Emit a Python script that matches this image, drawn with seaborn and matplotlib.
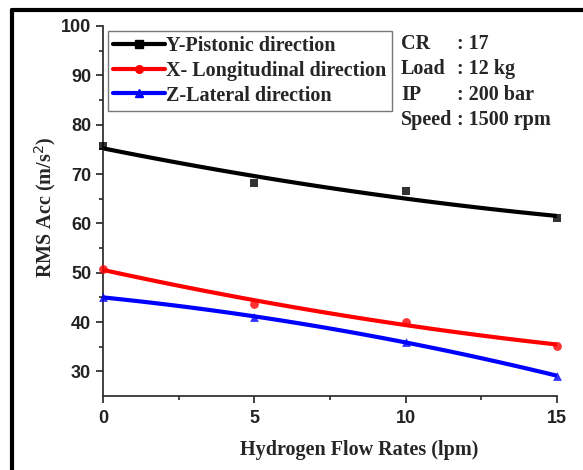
import matplotlib
matplotlib.use("Agg")
import matplotlib.pyplot as plt
from matplotlib.lines import Line2D
import numpy as np
import pandas as pd
import seaborn as sns

# Hydrogen flow rate (lpm) and RMS acceleration in each direction
flow_rates = [0, 5, 10, 15]
y_pistonic = [75.7, 68.1, 66.5, 61.0]
x_longitudinal = [50.8, 43.7, 40.1, 35.2]
z_lateral = [45.0, 41.1, 35.9, 29.1]

series_names = ["Y-Pistonic direction", "X- Longitudinal direction", "Z-Lateral direction"]
series_values = [y_pistonic, x_longitudinal, z_lateral]
series_colors = ["#000000", "#ff0000", "#0000ff"]
series_markers = ["s", "o", "^"]

conditions = [("CR", ": 17"), ("Load", ": 12 kg"), ("IP", ": 200 bar"), ("Speed", ": 1500 rpm")]

sns.set_style("ticks")
plt.rcParams["font.family"] = ["Liberation Sans", "DejaVu Sans"]

fig = plt.figure(figsize=(5.83, 4.70), dpi=100)
ax = fig.add_axes([0.1767, 0.1574, 0.7787, 0.7873])

serif = ["Liberation Serif", "DejaVu Serif"]

handles = []
for name, vals, col, mk in zip(series_names, series_values, series_colors, series_markers):
    df = pd.DataFrame({"flow": flow_rates, "acc": vals})
    sns.regplot(data=df, x="flow", y="acc", order=2, ci=None, ax=ax,
                color=col, marker=mk,
                scatter_kws={"s": 40, "zorder": 3, "linewidths": 0, "clip_on": False},
                line_kws={"lw": 3.0, "zorder": 2, "solid_capstyle": "butt"})
    handles.append(Line2D([], [], color=col, lw=3.0, marker=mk, markersize=5.5,
                          label=name))

ax.set_xlim(0, 15)
ax.set_ylim(25, 100)
ax.set_xticks([0, 5, 10, 15])
ax.set_xticks([2.5, 7.5, 12.5], minor=True)
ax.set_yticks([30, 40, 50, 60, 70, 80, 90, 100])
ax.set_yticks(np.arange(35, 100, 10), minor=True)
ax.tick_params(axis="both", which="major", direction="out", length=5, width=1.2,
               labelsize=13, colors="#222222")
ax.tick_params(axis="x", which="major", pad=5)
ax.tick_params(axis="both", which="minor", direction="out", length=3, width=1.2)
for lab in ax.get_xticklabels() + ax.get_yticklabels():
    lab.set_fontweight("bold")
for sp in ("left", "bottom"):
    ax.spines[sp].set_linewidth(1.3)
    ax.spines[sp].set_color("#333333")
sns.despine(ax=ax)

ax.set_xlabel("Hydrogen Flow Rates (lpm)", family=serif, fontweight="bold",
              fontsize=14.5)
ax.xaxis.set_label_coords(0.564, -0.12)
ax.set_ylabel("RMS Acc (m/s$^2$)", family=serif, fontweight="bold",
              fontsize=14.5)
ax.yaxis.set_label_coords(-0.10, 0.51)

leg = ax.legend(handles=handles, loc="upper left", bbox_to_anchor=(0.011, 0.987),
                prop={"family": serif, "weight": "bold", "size": 14.5},
                frameon=True, fancybox=False, handlelength=2.6,
                handletextpad=0.05, borderpad=0.25, labelspacing=0.24,
                borderaxespad=0.0)
leg.get_frame().set_edgecolor("#555555")
leg.get_frame().set_linewidth(1.0)

for i, (k, v) in enumerate(conditions):
    ypos = 0.9065 - i * 0.0538
    fig.text(0.688, ypos, k, family=serif, fontweight="bold", fontsize=14.5, va="center")
    fig.text(0.784, ypos, v, family=serif, fontweight="bold", fontsize=14.5, va="center")

# outer frame edges
fig.add_artist(Line2D([0.0206, 1.0], [0.9787, 0.9787], color="black", lw=3,
                      transform=fig.transFigure))
fig.add_artist(Line2D([0.0206, 0.0206], [0.0, 0.9787], color="black", lw=3,
                      transform=fig.transFigure))

fig.savefig("out.png", dpi=100)
